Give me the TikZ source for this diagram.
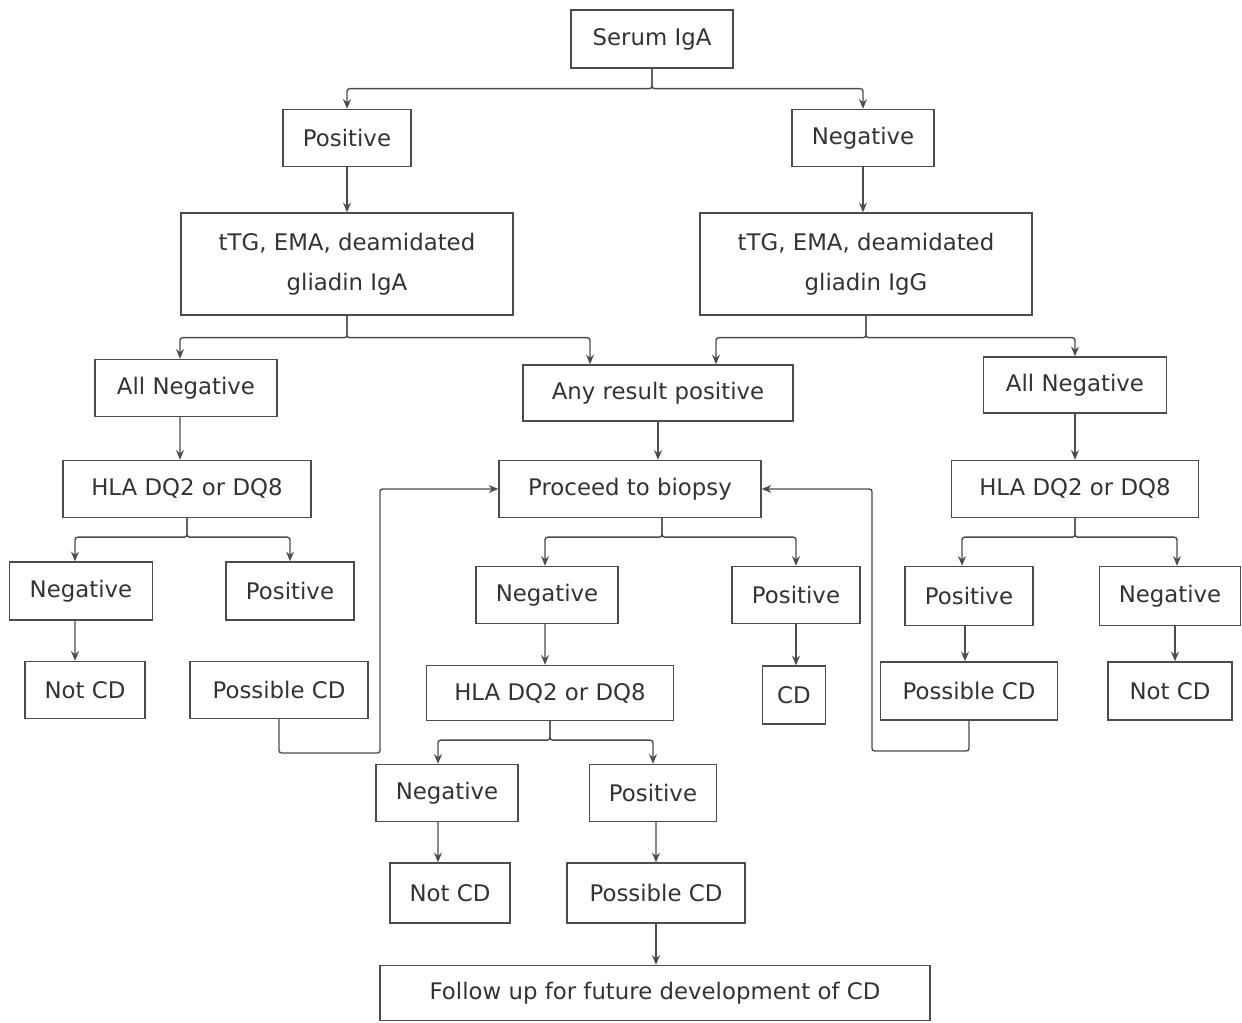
\documentclass[tikz,border=0pt]{standalone}
\usepackage{fontspec}
\setmainfont{DejaVu Sans}
\usetikzlibrary{arrows.meta,calc}

\begin{document}
\begin{tikzpicture}[x=0.02cm,y=-0.02cm,>={Stealth[length=5.5pt,width=4.5pt]},
 font=\fontsize{13}{23}\selectfont,
 box/.style={draw=black!70,line width=0.8pt,text=black!80,align=center,inner sep=0pt},
 sz/.style 2 args={minimum width=#1cm,minimum height=#2cm},
 link/.style={draw=black!70,line width=0.8pt,rounded corners=1.5pt}]
\useasboundingbox (0,0) rectangle (1242,1023);
\node[box,sz={3.24}{1.16}] (serum) at (652,39) {Serum IgA};
\node[box,sz={2.56}{1.14}] (posA) at (347,138) {Positive};
\node[box,sz={2.84}{1.14}] (negA) at (863,138) {Negative};
\node[box,sz={6.64}{2.04}] (ttgL) at (347,264) {tTG, EMA, deamidated\\gliadin IgA};
\node[box,sz={6.64}{2.04}] (ttgR) at (866,264) {tTG, EMA, deamidated\\gliadin IgG};
\node[box,sz={3.64}{1.14}] (allnegL) at (186,388) {All Negative};
\node[box,sz={5.40}{1.12}] (anypos) at (658,393) {Any result positive};
\node[box,sz={3.66}{1.12}] (allnegR) at (1075,385) {All Negative};
\node[box,sz={4.96}{1.14}] (hlaL) at (187,489) {HLA DQ2 or DQ8};
\node[box,sz={5.24}{1.14}] (biopsy) at (630,489) {Proceed to biopsy};
\node[box,sz={4.94}{1.14}] (hlaR) at (1075,489) {HLA DQ2 or DQ8};
\node[box,sz={2.86}{1.16}] (negL) at (81,591) {Negative};
\node[box,sz={2.56}{1.16}] (posL) at (290,591) {Positive};
\node[box,sz={2.84}{1.14}] (negM) at (547,595) {Negative};
\node[box,sz={2.56}{1.14}] (posM) at (796,595) {Positive};
\node[box,sz={2.56}{1.18}] (posR) at (969,596) {Positive};
\node[box,sz={2.82}{1.18}] (negR) at (1170,596) {Negative};
\node[box,sz={2.40}{1.14}] (notL) at (85,690) {Not CD};
\node[box,sz={3.56}{1.14}] (possL) at (279,690) {Possible CD};
\node[box,sz={4.94}{1.10}] (hlaM) at (550,693) {HLA DQ2 or DQ8};
\node[box,sz={1.26}{1.16}] (cd) at (794,695) {CD};
\node[box,sz={3.54}{1.16}] (possR) at (969,691) {Possible CD};
\node[box,sz={2.48}{1.16}] (notR) at (1170,691) {Not CD};
\node[box,sz={2.84}{1.14}] (negB) at (447,793) {Negative};
\node[box,sz={2.54}{1.14}] (posB) at (653,793) {Positive};
\node[box,sz={2.40}{1.20}] (notB) at (450,893) {Not CD};
\node[box,sz={3.56}{1.20}] (possB) at (656,893) {Possible CD};
\node[box,sz={11.0}{1.10}] (follow) at (655,993) {Follow up for future development of CD};
\draw[link,->] (serum.south) -- ++(0,20) -| (posA.north);
\draw[link,->] (serum.south) -- ++(0,20) -| (negA.north);
\draw[link,->] (posA.south) -- (posA.south |- ttgL.north);
\draw[link,->] (negA.south) -- (negA.south |- ttgR.north);
\draw[link,->] (ttgL.south) -- ++(0,22) -| ($(allnegL.north)+(-6,0)$);
\draw[link,->] (ttgL.south) -- ++(0,22) -| ($(anypos.north)+(-68,0)$);
\draw[link,->] (ttgR.south) -- ++(0,22) -| ($(anypos.north)+(58,0)$);
\draw[link,->] (ttgR.south) -- ++(0,22) -| (allnegR.north);
\draw[link,->] ([xshift=-0.12cm]allnegL.south) -- ([xshift=-0.14cm]hlaL.north);
\draw[link,->] (anypos.south) -- (anypos.south |- biopsy.north);
\draw[link,->] (allnegR.south) -- (allnegR.south |- hlaR.north);
\draw[link,->] (hlaL.south) -- ++(0,19) -| ([xshift=-0.12cm]negL.north);
\draw[link,->] (hlaL.south) -- ++(0,19) -| (posL.north);
\draw[link,->] ([xshift=-0.12cm]negL.south) -- ([xshift=-0.2cm]notL.north);
\draw[link,->] (possL.south) |- (380,753) |- (biopsy.west);
\draw[link,->] ([xshift=0.64cm]biopsy.south) -- ++(0,19) -| ([xshift=-0.04cm]negM.north);
\draw[link,->] ([xshift=0.64cm]biopsy.south) -- ++(0,19) -| (posM.north);
\draw[link,->] ([xshift=-0.04cm]negM.south) -- ([xshift=-0.1cm]hlaM.north);
\draw[link,->] (posM.south) -- (posM.south |- cd.north);
\draw[link,->] (possR.south) |- (872,751) |- (biopsy.east);
\draw[link,->] (hlaR.south) -- ++(0,19) -| ([xshift=-0.14cm]posR.north);
\draw[link,->] (hlaR.south) -- ++(0,19) -| ([xshift=0.14cm]negR.north);
\draw[link,->] ([xshift=-0.08cm]posR.south) -- ([xshift=-0.08cm]possR.north);
\draw[link,->] ([xshift=0.1cm]negR.south) -- ([xshift=0.1cm]notR.north);
\draw[link,->] (hlaM.south) -- ++(0,19) -| ([xshift=-0.18cm]negB.north);
\draw[link,->] (hlaM.south) -- ++(0,19) -| (posB.north);
\draw[link,->] ([xshift=-0.18cm]negB.south) -- ([xshift=-0.24cm]notB.north);
\draw[link,->] ([xshift=0.06cm]posB.south) -- (possB.north);
\draw[link,->] (possB.south) -- (possB.south |- follow.north);
\end{tikzpicture}
\end{document}
